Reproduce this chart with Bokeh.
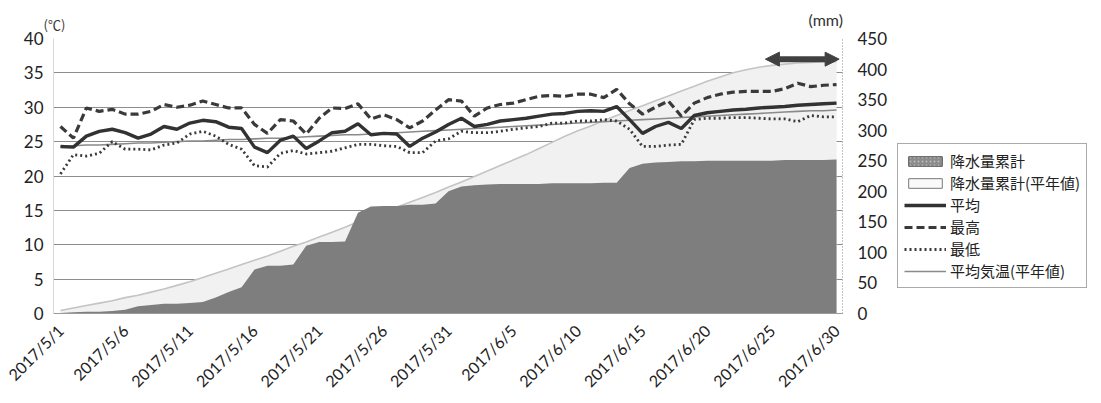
import math
from bokeh.plotting import figure
from bokeh.layouts import row
from bokeh.models import (ColumnDataSource, Range1d, LinearAxis, FixedTicker,
                          Legend, LegendItem, Label, Arrow, NormalHead)
from bokeh.embed import file_html
from bokeh.resources import INLINE

# ---------------- data ----------------
dates = [f"2017/5/{d}" for d in range(1, 32)] + [f"2017/6/{d}" for d in range(1, 31)]

temp_avg = [24.3, 24.2, 25.8, 26.5, 26.8, 26.3, 25.5, 26.1, 27.2, 26.8,
            27.7, 28.1, 27.9, 27.1, 26.9, 24.2, 23.4, 25.2, 25.8, 24.0,
            25.1, 26.3, 26.5, 27.6, 26.0, 26.2, 26.1, 24.3, 25.5, 26.4,
            27.5, 28.4, 27.2, 27.5, 28.0, 28.2, 28.4, 28.7, 29.0, 29.1,
            29.4, 29.5, 29.4, 30.1, 28.2, 26.2, 27.2, 27.8, 26.9, 28.8,
            29.2, 29.4, 29.6, 29.7, 29.9, 30.0, 30.1, 30.3, 30.4, 30.5, 30.6]

temp_max = [27.2, 25.5, 29.9, 29.4, 29.7, 29.0, 29.0, 29.4, 30.4, 30.0,
            30.3, 30.9, 30.4, 29.9, 29.9, 27.5, 26.2, 28.2, 28.0, 26.1,
            28.4, 29.9, 29.8, 30.5, 28.3, 28.9, 28.2, 27.0, 28.0, 29.6,
            31.1, 30.9, 28.7, 29.9, 30.4, 30.6, 31.1, 31.6, 31.7, 31.6,
            31.9, 31.9, 31.4, 32.6, 30.5, 29.0, 30.0, 30.9, 28.7, 30.6,
            31.4, 31.9, 32.2, 32.3, 32.3, 32.3, 32.7, 33.5, 33.0, 33.2, 33.3]

temp_min = [20.3, 23.1, 22.9, 23.3, 25.0, 23.9, 23.9, 23.8, 24.5, 24.8,
            26.1, 26.5, 25.8, 24.6, 23.9, 21.5, 21.3, 23.3, 23.7, 23.2,
            23.4, 23.6, 24.1, 24.6, 24.6, 24.4, 24.3, 23.4, 23.4, 25.1,
            25.4, 26.5, 26.3, 26.3, 26.5, 26.8, 27.0, 27.2, 27.7, 27.7,
            28.0, 28.0, 28.2, 28.0, 26.8, 24.3, 24.3, 24.5, 24.6, 28.2,
            28.4, 28.4, 28.5, 28.5, 28.4, 28.3, 28.3, 27.9, 28.8, 28.6, 28.6]

temp_normal = [24.3, 24.4, 24.5, 24.5, 24.6, 24.7, 24.8, 24.8, 24.9, 25.0,
               25.1, 25.1, 25.2, 25.3, 25.3, 25.4, 25.5, 25.5, 25.6, 25.7,
               25.8, 25.9, 26.0, 26.0, 26.1, 26.2, 26.3, 26.4, 26.5, 26.6,
               26.7, 26.8, 26.9, 27.0, 27.1, 27.2, 27.3, 27.4, 27.5, 27.6,
               27.7, 27.8, 27.9, 28.0, 28.1, 28.2, 28.3, 28.4, 28.5, 28.6,
               28.7, 28.8, 28.9, 29.0, 29.1, 29.2, 29.3, 29.4, 29.5, 29.5, 29.6]

precip_cum = [1, 2, 3, 3, 4, 6, 12, 14, 16, 16,
              17, 19, 26, 35, 43, 72, 78, 78, 80, 111,
              117, 117, 118, 165, 175, 176, 176, 178, 178, 180,
              200, 208, 210, 211, 212, 212, 212, 212, 213, 213,
              213, 213, 214, 214, 238, 245, 247, 248, 249, 249,
              250, 250, 250, 250, 250, 250, 251, 251, 251, 251, 252]

precip_normal = [5, 9, 13, 17, 21, 26, 30, 35, 40, 46,
                 52, 59, 66, 73, 80, 87, 94, 102, 110, 117,
                 125, 133, 141, 150, 158, 166, 174, 182, 190, 198,
                 207, 215, 224, 233, 242, 251, 260, 270, 280, 290,
                 299, 307, 316, 324, 332, 340, 348, 356, 364, 372,
                 380, 387, 394, 399, 403, 406, 408, 410, 411, 412, 412]

temp_ticks = [0, 5, 10, 15, 20, 25, 30, 35, 40]
mm_ticks = [0, 50, 100, 150, 200, 250, 300, 350, 400, 450]
date_tick_idx = [0, 5, 10, 15, 20, 25, 30, 35, 40, 45, 50, 55, 60]

# double arrow marking the last days (day index start/end, temperature level)
arrow_days = [54.5, 60.2]
arrow_level = 37.0

labels = ["降水量累計", "降水量累計(平年値)", "平均", "最高", "最低", "平均気温(平年値)"]

# ---------------- styles ----------------
NUM_FONT = "Lato"
CJK_FONT = "Noto Sans CJK JP"
C_PC = "#7e7e7e"
C_PN = "#f1f1f1"
C_PN_LINE = "#c4c4c4"
C_NORM = "#8a8a8a"
C_T = "#3a3a3a"
C_AVG = "#323232"


def style_axis(ax, size, standoff):
    ax.major_tick_line_color = None
    ax.minor_tick_line_color = None
    ax.major_tick_out = 0
    ax.major_tick_in = 0
    ax.minor_tick_out = 0
    ax.minor_tick_in = 0
    ax.major_label_text_font = NUM_FONT
    ax.major_label_text_font_size = size
    ax.major_label_text_color = "#222222"
    ax.major_label_standoff = standoff


# ---------------- main figure ----------------
x = list(range(len(dates)))
src = ColumnDataSource(dict(x=x, avg=temp_avg, tmax=temp_max, tmin=temp_min,
                            tnorm=temp_normal, pc=precip_cum, pn=precip_normal))

p = figure(width=895, height=400, output_backend="svg", toolbar_location=None,
           x_range=Range1d(-0.54, 60.46), y_range=Range1d(0, 40),
           min_border_left=53, min_border_right=53, min_border_top=37,
           min_border_bottom=87)
p.outline_line_color = None
p.background_fill_color = "white"

ya = p.yaxis[0]
ya.ticker = FixedTicker(ticks=temp_ticks)
style_axis(ya, "17px", 10)
ya.axis_line_color = "#d8d8d8"

xa = p.xaxis[0]
xa.ticker = FixedTicker(ticks=date_tick_idx)
xa.major_label_overrides = {i: dates[i] for i in date_tick_idx}
xa.major_label_orientation = math.pi / 4
style_axis(xa, "16px", 14)
xa.axis_line_color = "#9a9a9a"

p.extra_y_ranges = {"mm": Range1d(0, 450)}
ra = LinearAxis(y_range_name="mm", ticker=FixedTicker(ticks=mm_ticks))
style_axis(ra, "17px", 15)
ra.axis_line_color = "#8a8a8a"
ra.axis_line_dash = "1 2"
p.add_layout(ra, "right")

p.xgrid.visible = False
p.ygrid.ticker = FixedTicker(ticks=temp_ticks)
p.ygrid.grid_line_color = "#8e8e8e"
p.ygrid.grid_line_width = 1

p.varea(x="x", y1=0, y2="pn", source=src, y_range_name="mm", fill_color=C_PN)
p.line(x="x", y="pn", source=src, y_range_name="mm", line_color=C_PN_LINE, line_width=1.6)
p.varea(x="x", y1=0, y2="pc", source=src, y_range_name="mm", fill_color=C_PC)

p.line(x="x", y="tnorm", source=src, line_color=C_NORM, line_width=1.6)
p.line(x="x", y="tmin", source=src, line_color=C_T, line_width=2.8, line_dash="2 3")
p.line(x="x", y="tmax", source=src, line_color=C_T, line_width=3.2, line_dash="8 4")
p.line(x="x", y="avg", source=src, line_color=C_AVG, line_width=3.4)

p.add_layout(Arrow(x_start=arrow_days[0], y_start=arrow_level,
                   x_end=arrow_days[1], y_end=arrow_level,
                   line_color="#404040", line_width=6,
                   start=NormalHead(size=14, fill_color="#404040", line_color="#404040"),
                   end=NormalHead(size=14, fill_color="#404040", line_color="#404040")))

# unit labels, placed in the top panel so they are not clipped by the frame
p.add_layout(Label(x=-0.54, y=40, x_offset=-10, y_offset=5, text="(℃)",
                   text_font=CJK_FONT, text_font_size="13px", text_color="#333333"),
             "above")
p.add_layout(Label(x=60.46, y=40, x_offset=-34, y_offset=10, text="(mm)",
                   text_font=NUM_FONT, text_font_size="16px", text_color="#333333"),
             "above")

# ---------------- legend panel ----------------
pl = figure(width=200, height=400, output_backend="svg", toolbar_location=None,
            x_axis_location=None, y_axis_location=None,
            x_range=Range1d(0, 1), y_range=Range1d(0, 1),
            min_border_left=0, min_border_right=0, min_border_top=37,
            min_border_bottom=87)
pl.outline_line_color = None
pl.xgrid.visible = False
pl.ygrid.visible = False

# legend proxies: one point each, outside the visible range
ox = [5.0]
oy = [5.0]
l_pc = pl.quad(left=ox, right=ox, top=oy, bottom=oy, fill_color="#8c8c8c",
               line_color="#555555", line_width=1,
               hatch_pattern="dot", hatch_color="#bbbbbb", hatch_scale=4)
l_pn = pl.quad(left=ox, right=ox, top=oy, bottom=oy, fill_color="#fafafa",
               line_color="#777777", line_width=1)
l_avg = pl.line(x=ox, y=oy, line_color=C_AVG, line_width=3.4)
l_max = pl.line(x=ox, y=oy, line_color=C_T, line_width=3.2, line_dash="8 4")
l_min = pl.line(x=ox, y=oy, line_color=C_T, line_width=2.8, line_dash="2 3")
l_norm = pl.line(x=ox, y=oy, line_color=C_NORM, line_width=1.6)

items = [LegendItem(label=labels[0], renderers=[l_pc]),
         LegendItem(label=labels[1], renderers=[l_pn]),
         LegendItem(label=labels[2], renderers=[l_avg]),
         LegendItem(label=labels[3], renderers=[l_max]),
         LegendItem(label=labels[4], renderers=[l_min]),
         LegendItem(label=labels[5], renderers=[l_norm])]
legend = Legend(items=items, location=(2, 25),
                border_line_color="#555555", border_line_width=1,
                background_fill_color="white", background_fill_alpha=1,
                label_text_font=CJK_FONT, label_text_font_size="15px",
                label_text_color="#222222",
                glyph_width=42, glyph_height=12, label_height=18,
                spacing=1, padding=6, margin=0, label_standoff=4)
pl.add_layout(legend)

layout = row(p, pl)
open("out.html", "w").write(file_html(layout, INLINE))
